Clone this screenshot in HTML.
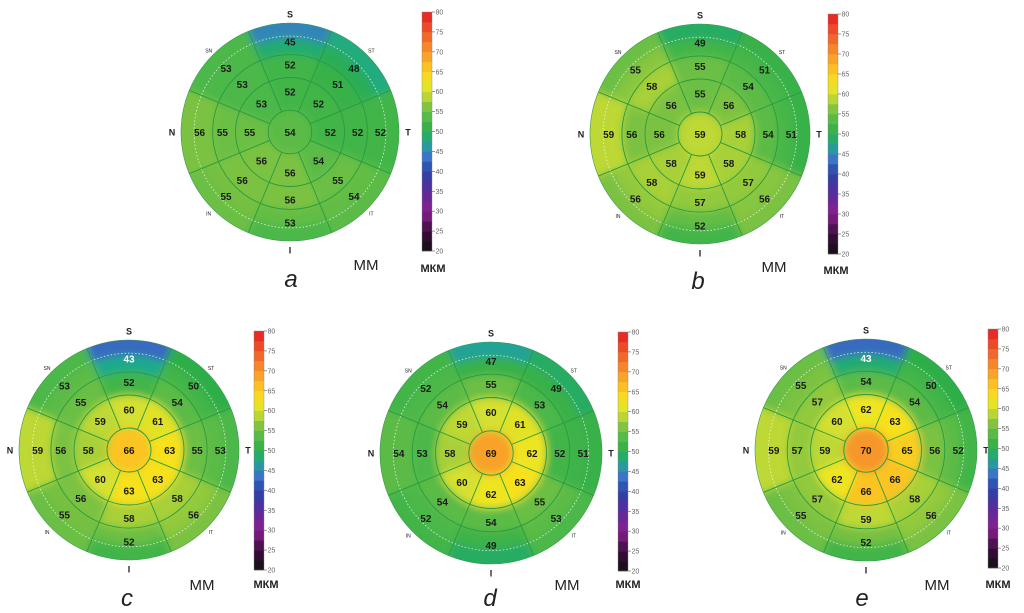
<!DOCTYPE html>
<html><head><meta charset="utf-8">
<style>
html,body{margin:0;padding:0;background:#fff;}
svg{display:block;}
text{font-family:"Liberation Sans",sans-serif;}
</style></head>
<body>
<svg id="chart" width="1024" height="613" viewBox="0 0 1024 613" xmlns="http://www.w3.org/2000/svg">
<rect width="1024" height="613" fill="#fff"/>
<defs>
<filter id="soft" x="-20%" y="-20%" width="140%" height="140%"><feGaussianBlur stdDeviation="4"/></filter>
</defs>
</svg>
<script>
// ---- data ----
const mapLabels = ['a','b','c','d','e'];
const centerValues = [54,59,66,69,70];
// order: S, ST, T, IT, I, IN, N, SN
const innerRing = [
 [52,52,52,54,56,56,55,53],
 [55,56,58,58,59,58,56,56],
 [60,61,63,63,63,60,58,59],
 [60,61,62,63,62,60,58,59],
 [62,63,65,66,66,62,59,60]
];
const middleRing = [
 [52,51,52,55,56,56,55,53],
 [55,54,54,57,57,58,56,58],
 [52,54,55,58,58,56,56,55],
 [55,53,52,55,54,54,53,54],
 [54,54,56,58,59,57,57,57]
];
const outerRing = [
 [45,48,52,54,53,55,56,53],
 [49,51,51,56,52,56,59,55],
 [43,50,53,56,52,55,59,53],
 [47,49,51,53,49,52,54,52],
 [43,50,52,56,52,55,59,55]
];
const scaleTicks = [20,25,30,35,40,45,50,55,60,65,70,75,80];
const directionLabels = ['S','ST','T','IT','I','IN','N','SN'];

// ---- layout (not data) ----
const layout = [
 {cx:290,cy:132,r:109,bx:422,by0:12,by1:251,mmx:366,mmy:270,kx:433,ky:272,lx:291,ly:287},
 {cx:700,cy:134,r:110,bx:828,by0:14,by1:254,mmx:774,mmy:272,kx:836,ky:274,lx:698,ly:289},
 {cx:129,cy:450,r:110,bx:254,by0:331,by1:570,mmx:202,mmy:590,kx:266,ky:588,lx:127,ly:606},
 {cx:491,cy:453,r:111,bx:618,by0:332,by1:571,mmx:567,mmy:590,kx:628,ky:588,lx:490,ly:606},
 {cx:866,cy:450,r:111,bx:988,by0:329,by1:568,mmx:937,mmy:590,kx:998,ky:588,lx:862,ly:606}
];
const stops=[[20,'#111111'],[25,'#3a0c3c'],[30,'#8a1f8f'],[35,'#5a2a9a'],[40,'#2a45a8'],[44,'#3b78c8'],[47.5,'#1eaa8c'],[50,'#2eae48'],[53,'#4cb848'],[56,'#7cc242'],[58,'#a8d038'],[60,'#d4e030'],[62.5,'#f5e61c'],[66,'#fbc424'],[70,'#f7962a'],[75,'#ef5a2a'],[80,'#e51c23']];
function hex(c){return [parseInt(c.substr(1,2),16),parseInt(c.substr(3,2),16),parseInt(c.substr(5,2),16)];}
function colorOf(v){
  if(v<=stops[0][0])return stops[0][1];
  for(let i=1;i<stops.length;i++){
    if(v<=stops[i][0]){
      const t=(v-stops[i-1][0])/(stops[i][0]-stops[i-1][0]);
      const a=hex(stops[i-1][1]),b=hex(stops[i][1]);
      return 'rgb('+a.map((x,k)=>Math.round(x+(b[k]-x)*t)).join(',')+')';
    }
  }
  return stops[stops.length-1][1];
}
const NS='http://www.w3.org/2000/svg';
const svg=document.getElementById('chart');
const defs=svg.querySelector('defs');
function mk(tag,attrs,parent){const e=document.createElementNS(NS,tag);for(const k in attrs)e.setAttribute(k,attrs[k]);(parent||svg).appendChild(e);return e;}
function angOf(i){return (-90+45*i)*Math.PI/180;}
function pol(cx,cy,r,a){return [cx+r*Math.cos(a),cy+r*Math.sin(a)];}
function sectorPath(cx,cy,r0,r1,a0,a1){
  const p1=pol(cx,cy,r1,a0),p2=pol(cx,cy,r1,a1),p3=pol(cx,cy,r0,a1),p4=pol(cx,cy,r0,a0);
  return `M${p1} A${r1},${r1} 0 0 1 ${p2} L${p3} A${r0},${r0} 0 0 0 ${p4} Z`;
}

mapLabels.forEach((lab,m)=>{
  const L=layout[m],cx=L.cx,cy=L.cy,R=L.r;
  const g=mk('g',{});
  
  
  mk('clipPath',{id:'clip'+m},defs);
  mk('circle',{cx:cx,cy:cy,r:R},defs.lastChild);
  const clipG=mk('g',{'clip-path':'url(#clip'+m+')'},g);
  const fillG=mk('g',{filter:'url(#soft)'},clipG);
  mk('circle',{cx:cx,cy:cy,r:R+10,fill:colorOf(middleRing[m][0])},fillG);
  const rings=[[0.2,0.5,innerRing[m]],[0.5,0.71,middleRing[m]]];
  rings.forEach(([a,b,vals])=>{
    vals.forEach((v,i)=>{
      const p=mk('path',{d:sectorPath(cx,cy,a*R,b*R,angOf(i)-Math.PI/8,angOf(i)+Math.PI/8),fill:colorOf(v)},fillG);
      
      
    });
  });
  outerRing[m].forEach((v,i)=>{
    const a0=angOf(i)-Math.PI/8,a1=angOf(i)+Math.PI/8;
    const mixed=(v+middleRing[m][i])/2;
    const p=mk('path',{d:sectorPath(cx,cy,0.71*R,0.86*R,a0,a1),fill:colorOf(Math.max(v,mixed))},fillG);
    
    
    const q=mk('path',{d:sectorPath(cx,cy,0.86*R,1.08*R,a0,a1),fill:colorOf(v)},fillG);
    
    
  });
  const cz=mk('circle',{cx:cx,cy:cy,r:0.2*R,fill:colorOf(centerValues[m])},fillG);
  
  
  // grid
  [0.2,0.5,0.71].forEach(f=>mk('circle',{cx:cx,cy:cy,r:f*R,fill:'none',stroke:'#2a9a40','stroke-width':0.9},g));
  mk('circle',{cx:cx,cy:cy,r:0.88*R,fill:'none',stroke:'#ffffff','stroke-width':0.8,'stroke-dasharray':'1.5,2','opacity':0.8},g);
  for(let i=0;i<8;i++){
    const a=angOf(i)+Math.PI/8,p0=pol(cx,cy,0.2*R,a),p1=pol(cx,cy,R,a);
    mk('line',{x1:p0[0],y1:p0[1],x2:p1[0],y2:p1[1],stroke:'#2a9a40','stroke-width':0.9},g);
  }
  mk('circle',{cx:cx,cy:cy,r:R,fill:'none',stroke:'#3a9a50','stroke-width':0.6},g);
  // values
  const tc=mk('text',{x:cx,y:cy+4,'text-anchor':'middle','font-size':10,'font-weight':'bold',fill:'#1a1a1a'},g);
  tc.textContent=centerValues[m];
  [[0.37,innerRing[m]],[0.62,middleRing[m]],[0.83,outerRing[m]]].forEach(([f,vals])=>{
    vals.forEach((v,i)=>{
      const p=pol(cx,cy,f*R,angOf(i));
      const t=mk('text',{x:p[0],y:p[1]+4,'text-anchor':'middle','font-size':10,'font-weight':'bold',fill:v<45?'#ffffff':'#1a1a1a'},g);
      t.textContent=v;
    });
  });
  // direction labels
  directionLabels.forEach((d,i)=>{
    const main=(i%2===0);
    const p=pol(cx,cy,R+(main?9:6),angOf(i));
    const t=mk('text',{x:p[0],y:p[1]+(main?3.5:2),'text-anchor':'middle','font-size':main?9:5,'font-weight':main?'bold':'normal',fill:'#222'},g);
    t.textContent=d;
  });
  // colorbar
  const cb=mk('g',{},g);
  
  
  const ys=v=>L.by1-(v-scaleTicks[0])/(scaleTicks[scaleTicks.length-1]-scaleTicks[0])*(L.by1-L.by0);
  for(let v=20;v<80;v+=2.5){
    mk('rect',{x:L.bx,y:ys(v+2.5),width:10,height:ys(v)-ys(v+2.5)+0.3,fill:colorOf(v+1.25)},cb);
  }
  mk('rect',{x:L.bx,y:L.by0,width:10,height:L.by1-L.by0,fill:'none',stroke:'#888','stroke-width':0.4},cb);
  scaleTicks.forEach(v=>{
    mk('line',{x1:L.bx+10,y1:ys(v),x2:L.bx+13,y2:ys(v),stroke:'#555','stroke-width':0.6},cb);
    const t=mk('text',{x:L.bx+13.5,y:ys(v)+2.5,'font-size':7,fill:'#666'},cb);
    t.textContent=v;
  });
  const mm=mk('text',{x:L.mmx,y:L.mmy,'text-anchor':'middle','font-size':15,fill:'#222'},g);
  mm.textContent='MM';
  const km=mk('text',{x:L.kx,y:L.ky,'text-anchor':'middle','font-size':11,'font-weight':'bold',fill:'#222'},g);
  km.textContent='МКМ';
  const pl=mk('text',{x:L.lx,y:L.ly,'text-anchor':'middle','font-size':24,'font-style':'italic',fill:'#222'},g);
  
  
  pl.textContent=lab;
});
</script>
</body></html>
